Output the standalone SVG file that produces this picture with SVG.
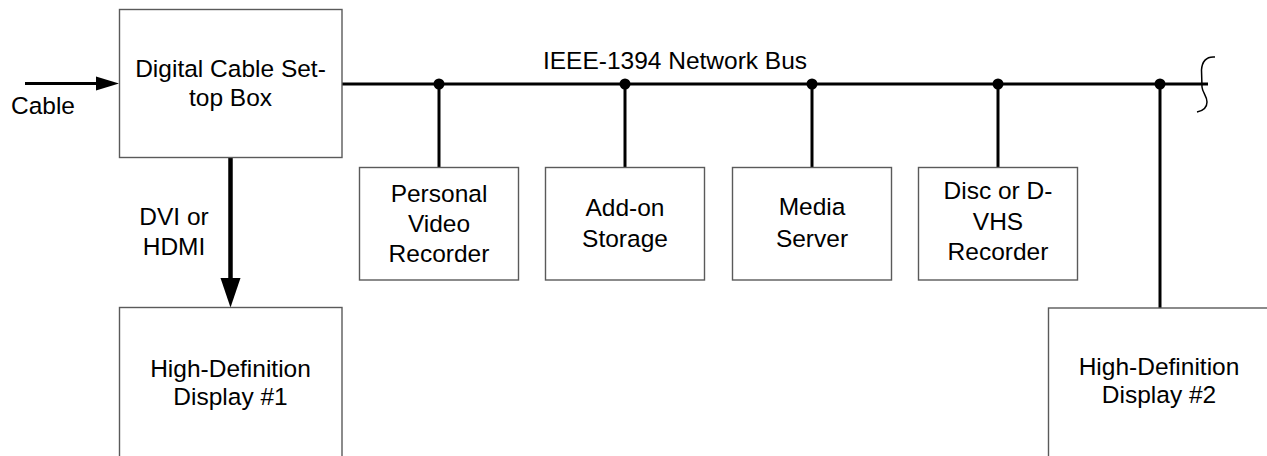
<svg xmlns="http://www.w3.org/2000/svg" width="1267" height="456" viewBox="0 0 1267 456">
  <style>
    .box { fill: #ffffff; stroke: #5a5a5a; stroke-width: 1.4; }
    .wire { fill: none; stroke: #000000; stroke-width: 3; }
    .dot { fill: #000000; }
    text { font-family: "Liberation Sans", Arial, sans-serif; font-size: 24.5px; fill: #000000; text-anchor: middle; }
  </style>
  <rect width="1267" height="456" fill="#ffffff"/>

  <g id="connectors">
    <!-- incoming cable feed -->
    <line class="wire" x1="25" y1="83.5" x2="100" y2="83.5"/>
    <polygon points="96,76.5 119,83.5 96,90.5" fill="#000"/>
    <!-- IEEE-1394 bus, ending in a break mark -->
    <line class="wire" x1="342" y1="84" x2="1208" y2="84"/>
    <path d="M1215,57 C1206,56 1202,62 1201.5,70 L1202,87 C1202.5,93 1207,96 1207,102 C1207,108 1202,111 1197,112" fill="none" stroke="#000" stroke-width="1.5"/>
    <!-- bus taps -->
    <line class="wire" x1="439" y1="84" x2="439" y2="167.5"/>
    <line class="wire" x1="625" y1="84" x2="625" y2="167.5"/>
    <line class="wire" x1="812" y1="84" x2="812" y2="167.5"/>
    <line class="wire" x1="998" y1="84" x2="998" y2="167.5"/>
    <line class="wire" x1="1160" y1="84" x2="1160" y2="308"/>
    <circle class="dot" cx="439" cy="84" r="5.5"/>
    <circle class="dot" cx="625" cy="84" r="5.5"/>
    <circle class="dot" cx="812" cy="84" r="5.5"/>
    <circle class="dot" cx="998" cy="84" r="5.5"/>
    <circle class="dot" cx="1160" cy="84" r="5.5"/>
    <!-- DVI / HDMI link -->
    <line x1="230.5" y1="157.5" x2="230.5" y2="282" stroke="#000" stroke-width="4.5"/>
    <polygon points="220.5,278 240.5,278 230.5,307.5" fill="#000"/>
  </g>

  <g id="labels">
    <text x="43" y="114">Cable</text>
    <text x="675" y="69">IEEE-1394 Network Bus</text>
    <text x="174" y="225">DVI or</text>
    <text x="174" y="255">HDMI</text>
  </g>

  <g id="settop">
    <rect class="box" x="119.5" y="9.5" width="222.5" height="148"/>
    <text x="230.5" y="77">Digital Cable Set-</text>
    <text x="230.5" y="106">top Box</text>
  </g>

  <g id="pvr">
    <rect class="box" x="359.5" y="167.5" width="159" height="112.5"/>
    <text x="439" y="201.5">Personal</text>
    <text x="439" y="232">Video</text>
    <text x="439" y="262">Recorder</text>
  </g>

  <g id="storage">
    <rect class="box" x="545.5" y="167.5" width="159" height="112.5"/>
    <text x="625" y="216">Add-on</text>
    <text x="625" y="246.5">Storage</text>
  </g>

  <g id="media-server">
    <rect class="box" x="732.5" y="167.5" width="159" height="112.5"/>
    <text x="812" y="215">Media</text>
    <text x="812" y="246.5">Server</text>
  </g>

  <g id="dvhs">
    <rect class="box" x="918.5" y="167.5" width="159" height="112.5"/>
    <text x="998" y="198.5">Disc or D-</text>
    <text x="998" y="230">VHS</text>
    <text x="998" y="260">Recorder</text>
  </g>

  <g id="display1">
    <rect class="box" x="119.5" y="307.5" width="222.5" height="160"/>
    <text x="230.5" y="377">High-Definition</text>
    <text x="230.5" y="405">Display #1</text>
  </g>

  <g id="display2">
    <rect class="box" x="1048.5" y="308" width="230" height="160"/>
    <text x="1159" y="375">High-Definition</text>
    <text x="1159" y="403">Display #2</text>
  </g>
</svg>
